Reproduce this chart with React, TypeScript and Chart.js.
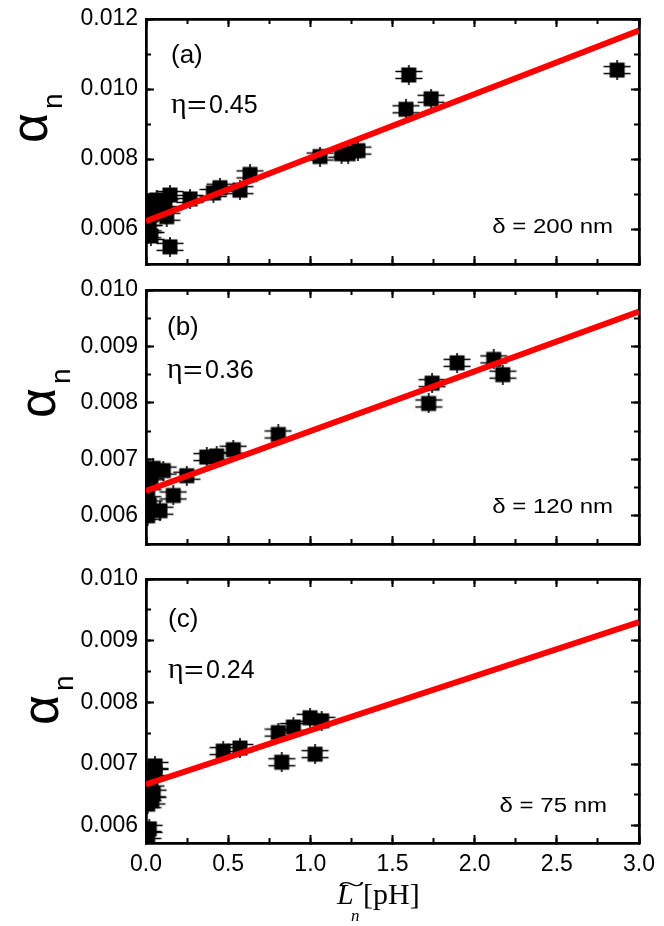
import React, { useEffect, useRef } from 'react';
import { Chart, registerables } from 'chart.js';

Chart.register(...registerables);

// ---------- data ----------
const xTicks = [0, 0.5, 1.0, 1.5, 2.0, 2.5, 3.0];
const xMinorTicks = [0, 0.25, 0.5, 0.75, 1.0, 1.25, 1.5, 1.75, 2.0, 2.25, 2.5, 2.75, 3.0];

const yTicksA = [0.006, 0.008, 0.010, 0.012];
const yMinorA = [0.005, 0.006, 0.007, 0.008, 0.009, 0.010, 0.011, 0.012];
const yTicksB = [0.006, 0.007, 0.008, 0.009, 0.010];
const yMinorB = [0.0055, 0.006, 0.0065, 0.007, 0.0075, 0.008, 0.0085, 0.009, 0.0095, 0.010];
const yTicksC = [0.006, 0.007, 0.008, 0.009, 0.010];
const yMinorC = [0.006, 0.0065, 0.007, 0.0075, 0.008, 0.0085, 0.009, 0.0095, 0.010];

const xA = [0.01, 0.02, 0.03, 0.01, 0.02, 0.01, 0.03, 0.044, 0.065, 0.09, 0.115, 0.126, 0.146, 0.146, 0.268, 0.41, 0.45, 0.572, 0.633, 1.059, 1.19, 1.23, 1.29, 1.582, 1.599, 1.735, 2.867];
const yA = [0.00675, 0.0066, 0.0064, 0.0062, 0.0060, 0.00585, 0.0058, 0.00659, 0.00683, 0.0067, 0.00674, 0.00635, 0.00697, 0.00549, 0.00686, 0.00703, 0.00718, 0.00711, 0.00756, 0.00807, 0.00815, 0.00815, 0.00824, 0.00942, 0.0104, 0.00972, 0.01054];

const xB = [0.01, 0.02, 0.01, 0.02, 0.01, 0.03, 0.044, 0.085, 0.105, 0.166, 0.248, 0.37, 0.43, 0.531, 0.805, 1.72, 1.741, 1.893, 2.116, 2.171];
const yB = [0.0068, 0.0066, 0.0064, 0.0062, 0.0060, 0.0067, 0.00684, 0.00609, 0.0068, 0.00636, 0.00671, 0.00704, 0.00706, 0.00717, 0.00744, 0.00799, 0.00835, 0.00871, 0.00877, 0.0085];

const xC = [0.01, 0.02, 0.035, 0.044, 0.055, 0.055, 0.03, 0.01, 0.47, 0.572, 0.805, 0.826, 0.897, 0.998, 1.029, 1.069];
const yC = [0.00585, 0.00595, 0.00641, 0.00652, 0.00687, 0.00697, 0.0067, 0.00635, 0.00721, 0.00726, 0.00751, 0.00703, 0.0076, 0.00775, 0.00716, 0.0077];

const lineX = [0, 3];
const lineA = [0.00622, 0.01167];
const lineB = [0.00644, 0.00962];
const lineC = [0.00667, 0.0093];

const panelLabels = ['(a)', '(b)', '(c)'];
const etaLabels = ['0.45', '0.36', '0.24'];
const deltaLabels = ['δ = 200 nm', 'δ = 120 nm', 'δ = 75 nm'];

// ---------- layout / style ----------
const W = 664;
const H = 926;
const LEFT = 146;
const RIGHT = 639;
const SANS = "'Liberation Sans', Arial, Helvetica, sans-serif";
const SERIF = "'Liberation Serif', 'Times New Roman', serif";

type Panel = {
  xs: number[]; ys: number[]; line: number[];
  yMin: number; yMax: number; yMajor: number[]; yMinor: number[];
  top: number; bottom: number; showX: boolean;
  label: string; eta: string; delta: string;
  pos: { lx: number; ly: number; ex: number; ey: number; dr: number; dy: number; ax: number; ay: number };
};

const panels: Panel[] = [
  { xs: xA, ys: yA, line: lineA, yMin: 0.005, yMax: 0.012, yMajor: yTicksA, yMinor: yMinorA, top: 19, bottom: 264, showX: false,
    label: panelLabels[0], eta: etaLabels[0], delta: deltaLabels[0],
    pos: { lx: 171, ly: 63, ex: 171, ey: 113, dr: 613, dy: 233, ax: 47, ay: 143 } },
  { xs: xB, ys: yB, line: lineB, yMin: 0.0055, yMax: 0.010, yMajor: yTicksB, yMinor: yMinorB, top: 290, bottom: 544, showX: false,
    label: panelLabels[1], eta: etaLabels[1], delta: deltaLabels[1],
    pos: { lx: 167, ly: 335, ex: 167, ey: 378, dr: 613, dy: 513, ax: 55, ay: 418 } },
  { xs: xC, ys: yC, line: lineC, yMin: 0.00572, yMax: 0.010, yMajor: yTicksC, yMinor: yMinorC, top: 579, bottom: 843, showX: true,
    label: panelLabels[2], eta: etaLabels[2], delta: deltaLabels[2],
    pos: { lx: 168, ly: 627, ex: 168, ey: 678, dr: 607, dy: 812, ax: 58, ay: 725 } },
];

function makeMarker(): HTMLCanvasElement {
  const c = document.createElement('canvas');
  c.width = 28;
  c.height = 20;
  const g = c.getContext('2d')!;
  g.fillStyle = '#000';
  g.fillRect(6.5, 2.5, 15, 15);
  g.strokeStyle = '#000';
  g.lineWidth = 1.6;
  g.beginPath();
  g.moveTo(0.5, 6.5); g.lineTo(27.5, 6.5);
  g.moveTo(0.5, 13.5); g.lineTo(27.5, 13.5);
  g.moveTo(14, 0); g.lineTo(14, 20);
  g.stroke();
  return c;
}

function axis(ax: 'x' | 'y', position: string, min: number, max: number, ticksArr: number[], len: number,
  showLabels: boolean, digits: number, size: number, weight: number) {
  return {
    type: 'linear',
    axis: ax,
    position,
    min,
    max,
    weight,
    afterBuildTicks: (s: any) => { s.ticks = ticksArr.map((v) => ({ value: v })); },
    afterFit: (s: any) => {
      if (ax === 'x') s.height = size; else s.width = size;
      s.paddingLeft = 0; s.paddingRight = 0; s.paddingTop = 0; s.paddingBottom = 0;
    },
    grid: { display: true, drawOnChartArea: false, drawTicks: true, tickLength: -len, tickWidth: 2, tickColor: '#000' },
    border: { display: true, color: '#000', width: 2.5 },
    ticks: {
      display: showLabels, autoSkip: false, maxRotation: 0, minRotation: 0, padding: 16, color: '#000',
      font: { family: SANS, size: 23 },
      callback: (v: any) => Number(v).toFixed(digits),
    },
  };
}

function annotPlugin(p: Panel) {
  return {
    id: 'annot',
    afterDraw(chart: any) {
      const ctx = chart.ctx as CanvasRenderingContext2D;
      const o = p.pos;
      ctx.save();
      ctx.fillStyle = '#000';
      ctx.textBaseline = 'alphabetic';
      ctx.textAlign = 'left';
      // panel letter
      ctx.font = `26px ${SANS}`;
      ctx.fillText(p.label, o.lx, o.ly);
      // eta
      ctx.font = `30px ${SERIF}`;
      ctx.fillText('η', o.ex, o.ey);
      ctx.save();
      ctx.translate(o.ex + 16, o.ey);
      ctx.scale(1.35, 1);
      ctx.font = `25px ${SANS}`;
      ctx.fillText('=', 0, 0);
      ctx.restore();
      ctx.font = `25px ${SANS}`;
      ctx.fillText(p.eta, o.ex + 38, o.ey);
      // delta
      ctx.font = `20px ${SANS}`;
      const dw = ctx.measureText(p.delta).width;
      const sx = 1.2;
      ctx.save();
      ctx.translate(o.dr - dw * sx, o.dy);
      ctx.scale(sx, 1);
      ctx.fillText(p.delta, 0, 0);
      ctx.restore();
      // y title alpha_n
      ctx.save();
      ctx.translate(o.ax, o.ay);
      ctx.rotate(-Math.PI / 2);
      ctx.font = `52px ${SANS}`;
      ctx.fillText('α', 0, 0);
      const aw = ctx.measureText('α').width;
      ctx.font = `28px ${SANS}`;
      ctx.fillText('n', aw + 4, 15);
      ctx.restore();
      // x title
      if (p.showX) {
        ctx.font = `italic 30px ${SERIF}`;
        ctx.fillText('L', 337, 904);
        ctx.save();
        ctx.translate(338, 892);
        ctx.scale(1.9, 1);
        ctx.font = `26px ${SERIF}`;
        ctx.fillText('~', 0, 0);
        ctx.restore();
        ctx.font = `italic 17px ${SERIF}`;
        ctx.fillText('n', 351, 921);
        ctx.font = `30px ${SERIF}`;
        ctx.fillText('[pH]', 363, 904);
      }
      ctx.restore();
    },
  };
}

function PanelChart({ p }: { p: Panel }) {
  const ref = useRef<HTMLCanvasElement | null>(null);
  useEffect(() => {
    if (!ref.current) return;
    const marker = makeMarker();
    const bottomSize = p.showX ? H - p.bottom : 0;
    const chart = new Chart(ref.current, {
      type: 'scatter',
      data: {
        datasets: [
          {
            type: 'line',
            data: lineX.map((x, i) => ({ x, y: p.line[i] })),
            borderColor: '#ff0000',
            borderWidth: 6,
            pointRadius: 0,
            fill: false,
            order: 0,
            xAxisID: 'x',
            yAxisID: 'y',
          } as any,
          {
            type: 'scatter',
            data: p.xs.map((x, i) => ({ x, y: p.ys[i] })),
            pointStyle: marker,
            pointRadius: 7,
            order: 1,
            xAxisID: 'x',
            yAxisID: 'y',
          } as any,
        ],
      },
      options: {
        responsive: false,
        animation: false,
        events: [],
        layout: { padding: { left: 0, right: W - RIGHT, top: p.top, bottom: H - p.bottom - bottomSize } },
        plugins: { legend: { display: false }, tooltip: { enabled: false } },
        scales: {
          x: axis('x', 'bottom', 0, 3, xTicks, 8, p.showX, 1, bottomSize, 1),
          xm: axis('x', 'bottom', 0, 3, xMinorTicks, 5, false, 2, 0, 0),
          xt: axis('x', 'top', 0, 3, xTicks, 8, false, 1, 0, 1),
          xtm: axis('x', 'top', 0, 3, xMinorTicks, 5, false, 2, 0, 0),
          y: axis('y', 'left', p.yMin, p.yMax, p.yMajor, 8, true, 3, LEFT, 1),
          ym: axis('y', 'left', p.yMin, p.yMax, p.yMinor, 5, false, 4, 0, 0),
          yr: axis('y', 'right', p.yMin, p.yMax, p.yMajor, 8, false, 3, 0, 1),
          yrm: axis('y', 'right', p.yMin, p.yMax, p.yMinor, 5, false, 4, 0, 0),
        } as any,
      },
      plugins: [annotPlugin(p)],
    } as any);
    return () => chart.destroy();
  }, [p]);
  return (
    <canvas
      ref={ref}
      width={W}
      height={H}
      style={{ position: 'absolute', left: 0, top: 0, width: W, height: H }}
    />
  );
}

export default function App() {
  return (
    <div style={{ position: 'absolute', left: 0, top: 0, width: W, height: H, background: '#fff' }}>
      {panels.map((p, i) => (
        <PanelChart key={i} p={p} />
      ))}
    </div>
  );
}
